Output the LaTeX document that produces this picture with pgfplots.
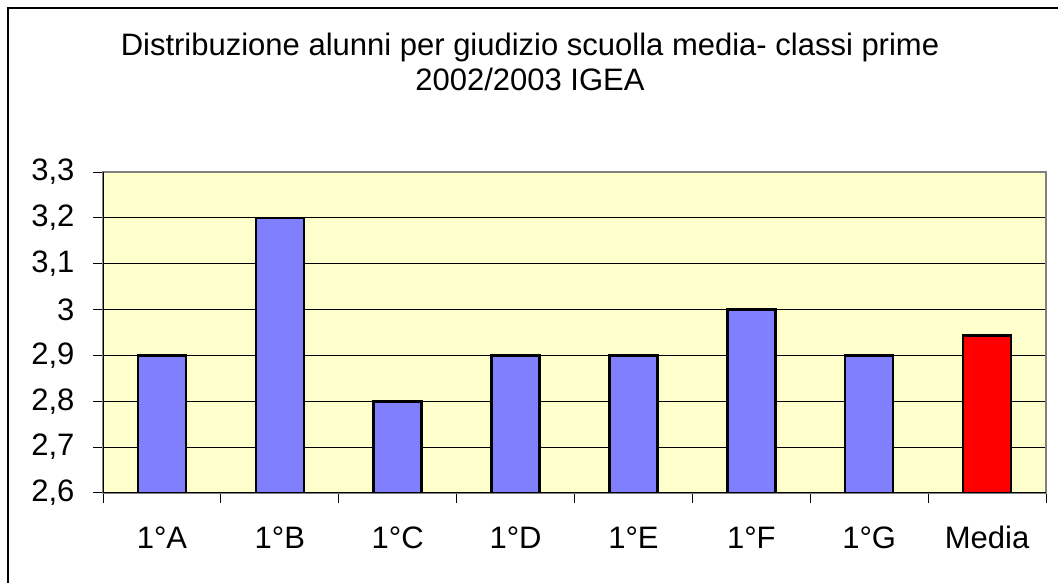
\documentclass[border=0pt]{standalone}
\usepackage{fontspec}
\setmainfont{Liberation Sans}
\usepackage{pgfplots}
\pgfplotsset{compat=1.18}
\definecolor{bgyellow}{HTML}{FFFFCC}
\definecolor{barblue}{HTML}{8080FF}
\definecolor{barred}{HTML}{FF0000}
\begin{document}
\begin{tikzpicture}[x=1pt,y=1pt]
\useasboundingbox (0,0) rectangle (1058,583);
\fill[white] (0,0) rectangle (1058,583);
\draw[line width=1.5pt] (8,-20) -- (8,575) -- (1080,575);
\node[anchor=base, font=\fontsize{31}{36}\selectfont] at (530,527) {Distribuzione alunni per giudizio scuolla media- classi prime};
\node[anchor=base, font=\fontsize{31}{36}\selectfont] at (530,492) {2002/2003 IGEA};
\begin{axis}[
  at={(103pt,90pt)}, anchor=south west,
  scale only axis, width=943pt, height=321pt,
  xmin=-0.5, xmax=7.5, ymin=2.6, ymax=3.3,
  ytick={2.6,2.7,...,3.31},
  xtick={0,...,7},
  xticklabels={1°A,1°B,1°C,1°D,1°E,1°F,1°G,Media},
  minor xtick={-0.5,0.5,...,7.6},
  tick pos=left,
  major x tick style={draw=none},
  minor x tick style={black, line width=1pt},
  y tick style={black, line width=1pt},
  tick align=outside,
  major tick length=10pt, minor tick length=10pt,
  ymajorgrids, grid style={black, line width=1pt},
  axis background/.style={fill=bgyellow},
  axis line style={draw=gray, line width=1.5pt},
  tick label style={font=\fontsize{31}{36}\selectfont},
  /pgf/number format/assume math mode=true,
  /pgf/number format/use comma,
  yticklabel style={xshift=-15pt},
  xticklabel style={text height=22pt, text depth=0pt, yshift=-20pt},
  ybar, bar width=48pt, bar shift=0pt,
  clip=true,
]
\addplot[fill=barblue, draw=black, line width=2.5pt] coordinates {(0,2.9) (1,3.2) (2,2.8) (3,2.9) (4,2.9) (5,3.0) (6,2.9)};
\addplot[fill=barred, draw=black, line width=2.5pt] coordinates {(7,2.943)};
\draw[black, line width=1.5pt] (rel axis cs:0,1) -- (rel axis cs:0,0) -- (rel axis cs:1,0);
\end{axis}
\end{tikzpicture}
\end{document}
